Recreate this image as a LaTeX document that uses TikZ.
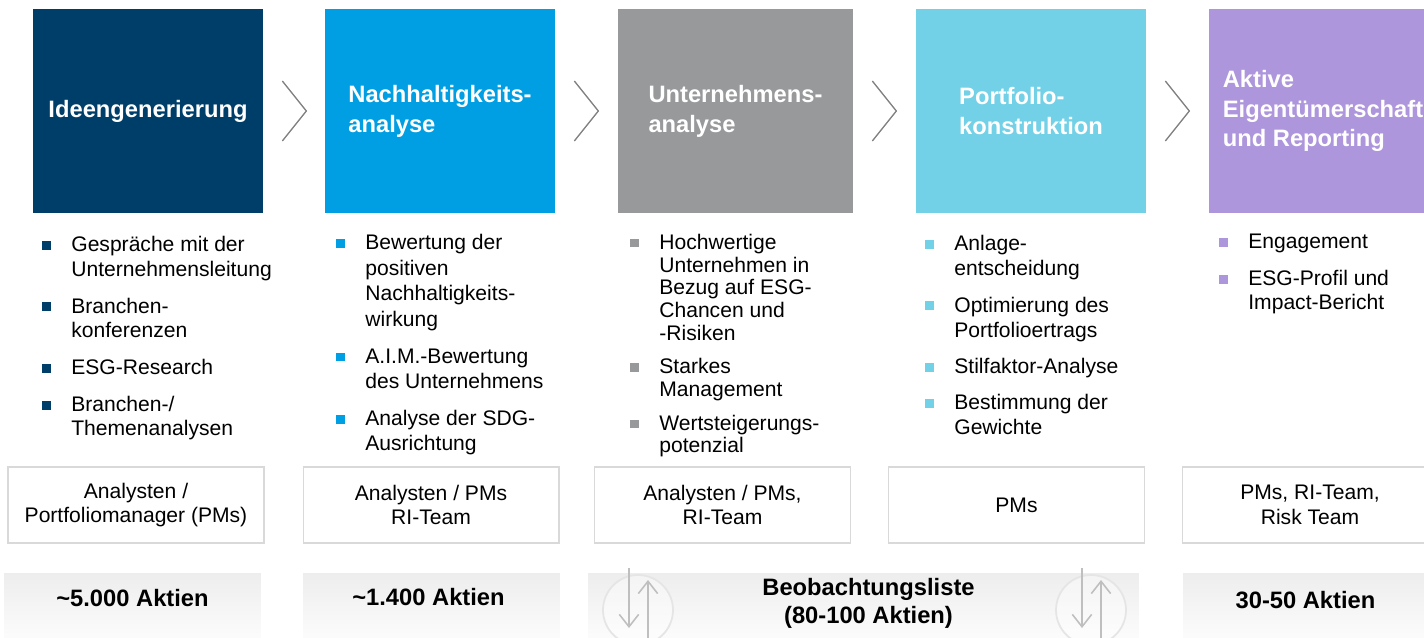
\documentclass[tikz,border=0pt]{standalone}
\usepackage{fontspec}
\setmainfont{Liberation Sans}
\usepackage{xcolor}
\usepackage{tikz}
\usetikzlibrary{arrows.meta, positioning, calc}

\definecolor{navy}{HTML}{003E6A}
\definecolor{sky}{HTML}{009FE3}
\definecolor{stone}{HTML}{98999B}
\definecolor{aqua}{HTML}{72D1E7}
\definecolor{lilac}{HTML}{AE96DC}

\newcommand\sq[1]{\llap{\textcolor{#1}{\rule[1pt]{5pt}{5pt}}\hspace{11.7pt}}}

\tikzset{
  stage/.style={minimum width=4.6cm, minimum height=4.08cm, inner sep=0pt, text=white,
    font=\fontsize{13.5}{17}\selectfont\bfseries, align=left},
  role/.style={draw=black!15, line width=0.6pt, minimum width=5.12cm, minimum height=1.52cm,
    inner sep=0pt, font=\fontsize{12}{14}\selectfont, align=center},
  steps/.style={anchor=base west, inner sep=0pt, align=left},
  bar/.style={top color=black!7, bottom color=white, minimum height=1.6cm, inner sep=0pt},
  count/.style={font=\fontsize{13.5}{16}\selectfont\bfseries, align=center},
  chev/.style={draw=black!50, line width=0.75pt},
  swap/.style={circle, draw=black!10, fill=white, fill opacity=0.4, line width=1pt, minimum size=1.4cm},
  flow/.style={draw=black!25, line width=0.9pt, -{Straight Barb[length=7pt,width=11pt]}}
}

\begin{document}
\begin{tikzpicture}[x=0.02cm, y=-0.02cm]
\useasboundingbox (0,0) rectangle (1424,638);
% Stages
\node[stage, fill=navy] (t1) at (148,111) {Ideengenerierung};
\node[stage, fill=sky] (t2) at (440,111) {Nachhaltigkeits-\\analyse};
\node[stage, fill=stone, minimum width=4.7cm] (t3) at (735.5,111) {Unternehmens-\\analyse};
\node[stage, fill=aqua] (t4) at (1031,111) {Portfolio-\\konstruktion};
\node[stage, fill=lilac, minimum width=4.56cm] (t5) at (1323,111) {Aktive\\Eigentümerschaft\\und Reporting};
% Chevrons
\foreach \s in {t1,t2,t3,t4}
  \draw[chev] ($(\s.east)+(19,-30)$) -- ++(24,30) -- ++(-24,30);
% Steps (base = last line)
\node[steps, font=\fontsize{12}{14}\selectfont] (l1) at (71,436)
  {\sq{navy}Gespräche mit der\\Unternehmensleitung\\[7pt]\sq{navy}Branchen-\\konferenzen\\[7pt]%
   \sq{navy}ESG-Research\\[7pt]\sq{navy}Branchen-/\\Themenanalysen};
\node[steps, font=\fontsize{12}{14.5}\selectfont] (l2) at (365,451)
  {\sq{sky}Bewertung der\\positiven\\Nachhaltigkeits-\\wirkung\\[6.5pt]\sq{sky}A.I.M.-Bewertung\\des Unternehmens\\[6.5pt]%
   \sq{sky}Analyse der SDG-\\Ausrichtung};
\node[steps, font=\fontsize{12}{13}\selectfont] (l3) at (659,453)
  {\sq{stone}Hochwertige\\Unternehmen in\\Bezug auf ESG-\\Chancen und\\-Risiken\\[6pt]\sq{stone}Starkes\\Management\\[6pt]%
   \sq{stone}Wertsteigerungs-\\potenzial};
\node[steps, font=\fontsize{12}{14.5}\selectfont] (l4) at (954,435)
  {\sq{aqua}Anlage-\\entscheidung\\[6pt]\sq{aqua}Optimierung des\\Portfolioertrags\\[6pt]%
   \sq{aqua}Stilfaktor-Analyse\\[6pt]\sq{aqua}Bestimmung der\\Gewichte};
\node[steps, font=\fontsize{12}{14}\selectfont] (l5) at (1248,310)
  {\sq{lilac}Engagement\\[7pt]\sq{lilac}ESG-Profil und\\Impact-Bericht};
% Roles
\node[role] (r1) at (136,505) {Analysten /\\Portfoliomanager (PMs)};
\node[role] (r2) at (431,505) {Analysten / PMs\\RI-Team};
\node[role] (r3) at (722.5,505) {Analysten / PMs,\\RI-Team};
\node[role] (r4) at (1016.5,505) {PMs};
\node[role] (r5) at (1310,505) {PMs, RI-Team,\\Risk Team};
% Universe
\node[bar, minimum width=5.14cm] (b1) at (132.5,613) {};
\node[bar, minimum width=5.14cm] (b2) at (431.5,613) {};
\node[bar, minimum width=11.02cm] (b3) at (863.5,613) {};
\node[bar, minimum width=5.14cm] (b4) at (1311.5,613) {};
\node[count] (n1) at ($(b1)+(0,-15)$) {\textasciitilde5.000 Aktien};
\node[count] (n2) at ($(b2)+(-3,-16)$) {\textasciitilde1.400 Aktien};
\node[count] (n3) at ($(b3)+(5,-10)$) {Beobachtungsliste\\(80-100 Aktien)};
\node[count] (n4) at ($(b4)+(-6,-13)$) {30-50 Aktien};
% In/out of the watch list
\node[swap] (s1) at (638,610) {};
\node[swap] (s2) at (1091,610) {};
\foreach \s in {s1,s2} {
  \draw[flow] ($(\s)+(-9,-42)$) -- ($(\s)+(-9,18)$);
  \draw[flow] ($(\s)+(10,30)$) -- ($(\s)+(10,-30)$);
}
\end{tikzpicture}
\end{document}
